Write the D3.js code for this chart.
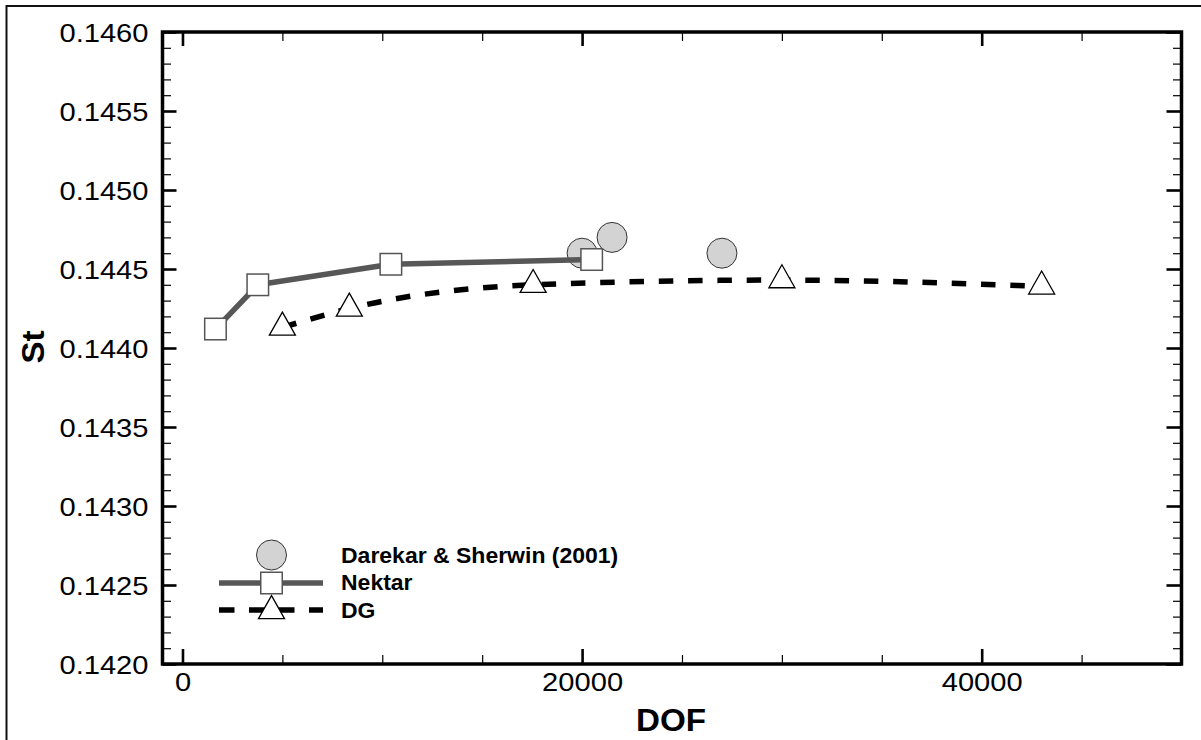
<!DOCTYPE html>
<html>
<head>
<meta charset="utf-8">
<script src="https://cdn.jsdelivr.net/npm/d3@7"></script>
<style>
  html, body { margin: 0; padding: 0; background: #fff; }
  svg { display: block; }
</style>
</head>
<body>
<svg id="chart" width="1201" height="740"></svg>
<script>
// ---- data ----
const darekarDOF = [20000, 21500, 27000];
const darekarSt  = [0.1446, 0.1447, 0.1446];

const nektarDOF = [1650, 3770, 10430, 20480];
const nektarSt  = [0.14412, 0.14440, 0.14453, 0.14456];

const dgDOF = [5000, 8350, 17550, 30000, 43000];
const dgSt  = [0.14413, 0.14425, 0.14440, 0.14443, 0.14439];

const xMajorTicks = [0, 20000, 40000];
const xMajorLabels = ["0", "20000", "40000"];
const xMinorTicks = [5000, 10000, 15000, 25000, 30000, 35000, 45000];

const yMajorTicks = [0.1420, 0.1425, 0.1430, 0.1435, 0.1440, 0.1445, 0.1450, 0.1455, 0.1460];
const yMajorLabels = ["0.1420", "0.1425", "0.1430", "0.1435", "0.1440", "0.1445", "0.1450", "0.1455", "0.1460"];
const yMinorTicks = [];
[0.1421,0.1422,0.1423,0.1424,0.1426,0.1427,0.1428,0.1429,0.1431,0.1432,0.1433,0.1434,
 0.1436,0.1437,0.1438,0.1439,0.1441,0.1442,0.1443,0.1444,0.1446,0.1447,0.1448,0.1449,
 0.1451,0.1452,0.1453,0.1454,0.1456,0.1457,0.1458,0.1459].forEach(v => yMinorTicks.push(v));

const legendLabels = ["Darekar & Sherwin (2001)", "Nektar", "DG"];
const xTitle = "DOF";
const yTitle = "St";

// ---- layout ----
const L = 162.5, R = 1181.5, T = 32, B = 664;
const FONT = "'Liberation Sans', Arial, Helvetica, sans-serif";
const SX = 1.12;   // horizontal stretch of the reference's lettering
const SXB = 1.07;

const svg = d3.select("#chart");

const x = d3.scaleLinear().domain([-1000, 50000]).range([L, R]);
const y = d3.scaleLinear().domain([0.1420, 0.1460]).range([B, T]);

// outer frame
svg.append("path")
  .attr("d", "M6.5,740 V6 H1201")
  .attr("fill", "none").attr("stroke", "#111").attr("stroke-width", 2);

// ---- axes ----
function styleAxis(g, width) {
  g.select(".domain").remove();
  g.selectAll(".tick line").attr("stroke", "#000").attr("stroke-width", width);
}

// bottom major with labels
const gxb = svg.append("g").attr("transform", `translate(0,${B})`)
  .call(d3.axisBottom(x).tickValues(xMajorTicks).tickSize(-15)
        .tickFormat((d, i) => xMajorLabels[i]));
styleAxis(gxb, 2.6);
gxb.selectAll(".tick text")
  .attr("y", 27).attr("dy", 0)
  .attr("transform", `scale(${SX},1)`)
  .attr("font-family", FONT).attr("font-size", 26).attr("fill", "#000");

// bottom minor
styleAxis(svg.append("g").attr("transform", `translate(0,${B})`)
  .call(d3.axisBottom(x).tickValues(xMinorTicks).tickSize(-9).tickFormat("")), 1.2);

// top major / minor
styleAxis(svg.append("g").attr("transform", `translate(0,${T})`)
  .call(d3.axisTop(x).tickValues(xMajorTicks).tickSize(-14).tickFormat("")), 2.6);
styleAxis(svg.append("g").attr("transform", `translate(0,${T})`)
  .call(d3.axisTop(x).tickValues(xMinorTicks).tickSize(-9).tickFormat("")), 1.2);

// left major with labels
const gyl = svg.append("g").attr("transform", `translate(${L},0)`)
  .call(d3.axisLeft(y).tickValues(yMajorTicks).tickSize(-14)
        .tickFormat((d, i) => yMajorLabels[i]));
styleAxis(gyl, 2.6);
gyl.selectAll(".tick text")
  .attr("x", -14 / SX).attr("dy", "0.37em")
  .attr("transform", `scale(${SX},1)`)
  .attr("font-family", FONT).attr("font-size", 26).attr("fill", "#000");

styleAxis(svg.append("g").attr("transform", `translate(${L},0)`)
  .call(d3.axisLeft(y).tickValues(yMinorTicks).tickSize(-8.5).tickFormat("")), 1.2);

// right major / minor
styleAxis(svg.append("g").attr("transform", `translate(${R},0)`)
  .call(d3.axisRight(y).tickValues(yMajorTicks).tickSize(-15).tickFormat("")), 2.6);
styleAxis(svg.append("g").attr("transform", `translate(${R},0)`)
  .call(d3.axisRight(y).tickValues(yMinorTicks).tickSize(-8.5).tickFormat("")), 1.2);

// plot box
svg.append("rect")
  .attr("x", L).attr("y", T).attr("width", R - L).attr("height", B - T)
  .attr("fill", "none").attr("stroke", "#000").attr("stroke-width", 3.5);

// axis titles
svg.append("text")
  .attr("transform", `translate(671,731) scale(${SXB},1)`)
  .attr("text-anchor", "middle")
  .attr("font-family", FONT).attr("font-weight", "bold").attr("font-size", 31)
  .attr("fill", "#000").text(xTitle);

svg.append("text")
  .attr("transform", `translate(43.5,347) rotate(-90) scale(${SXB},1)`)
  .attr("text-anchor", "middle")
  .attr("font-family", FONT).attr("font-weight", "bold").attr("font-size", 31)
  .attr("fill", "#000").text(yTitle);

// ---- markers ----
const CIRC_R = 15, SQ = 21.5, TRI_W = 26, TRI_H = 23;
function triPath(cx, cy) {
  // centroid-centred upward triangle
  const top = cy - TRI_H * 2 / 3, bot = cy + TRI_H / 3;
  return `M${cx},${top} L${cx + TRI_W / 2},${bot} L${cx - TRI_W / 2},${bot} Z`;
}

const dataG = svg.append("g");

// Darekar & Sherwin circles
dataG.selectAll("circle.dk")
  .data(darekarDOF.map((d, i) => [d, darekarSt[i]]))
  .join("circle").attr("class", "dk")
  .attr("cx", d => x(d[0])).attr("cy", d => y(d[1])).attr("r", CIRC_R)
  .attr("fill", "#d3d3d3").attr("stroke", "#333").attr("stroke-width", 1);

// Nektar line + squares
const nekPts = nektarDOF.map((d, i) => [d, nektarSt[i]]);
dataG.append("path")
  .attr("d", d3.line().x(d => x(d[0])).y(d => y(d[1]))(nekPts))
  .attr("fill", "none").attr("stroke", "#575757").attr("stroke-width", 5.5)
  .attr("stroke-linejoin", "round");
dataG.selectAll("rect.nk").data(nekPts).join("rect").attr("class", "nk")
  .attr("x", d => x(d[0]) - SQ / 2).attr("y", d => y(d[1]) - SQ / 2)
  .attr("width", SQ).attr("height", SQ)
  .attr("fill", "#fff").attr("stroke", "#555").attr("stroke-width", 1.5);

// DG dashed curve + triangles
const dgPts = dgDOF.map((d, i) => [d, dgSt[i]]);
dataG.append("path")
  .attr("d", d3.line().curve(d3.curveMonotoneX).x(d => x(d[0])).y(d => y(d[1]))(dgPts))
  .attr("fill", "none").attr("stroke", "#000").attr("stroke-width", 5.5)
  .attr("stroke-dasharray", "14.5,14.8");
dataG.selectAll("path.dg").data(dgPts).join("path").attr("class", "dg")
  .attr("d", d => triPath(x(d[0]), y(d[1])))
  .attr("fill", "#fff").attr("stroke", "#000").attr("stroke-width", 1.3);

// ---- legend ----
const lg = svg.append("g");
const LX0 = 219, LX1 = 323, LXC = 271.5, LTX = 341;
const rowY = [555, 583, 610];

lg.append("circle").attr("cx", LXC).attr("cy", rowY[0]).attr("r", CIRC_R)
  .attr("fill", "#d3d3d3").attr("stroke", "#333").attr("stroke-width", 1);

lg.append("line").attr("x1", LX0).attr("x2", LX1).attr("y1", rowY[1]).attr("y2", rowY[1])
  .attr("stroke", "#575757").attr("stroke-width", 5.5);
lg.append("rect").attr("x", LXC - SQ / 2).attr("y", rowY[1] - SQ / 2)
  .attr("width", SQ).attr("height", SQ)
  .attr("fill", "#fff").attr("stroke", "#555").attr("stroke-width", 1.5);

lg.append("line").attr("x1", LX0).attr("x2", LX1).attr("y1", rowY[2]).attr("y2", rowY[2])
  .attr("stroke", "#000").attr("stroke-width", 5.5).attr("stroke-dasharray", "15.5,14.5");
lg.append("path").attr("d", triPath(LXC, rowY[2] + 1))
  .attr("fill", "#fff").attr("stroke", "#000").attr("stroke-width", 1.3);

const labelBase = [562.5, 590, 618];
legendLabels.forEach((t, i) => {
  lg.append("text")
    .attr("transform", `translate(${LTX},${labelBase[i]}) scale(${SXB},1)`)
    .attr("font-family", FONT).attr("font-weight", "bold").attr("font-size", 21.5)
    .attr("fill", "#000").text(t);
});
</script>
</body>
</html>
